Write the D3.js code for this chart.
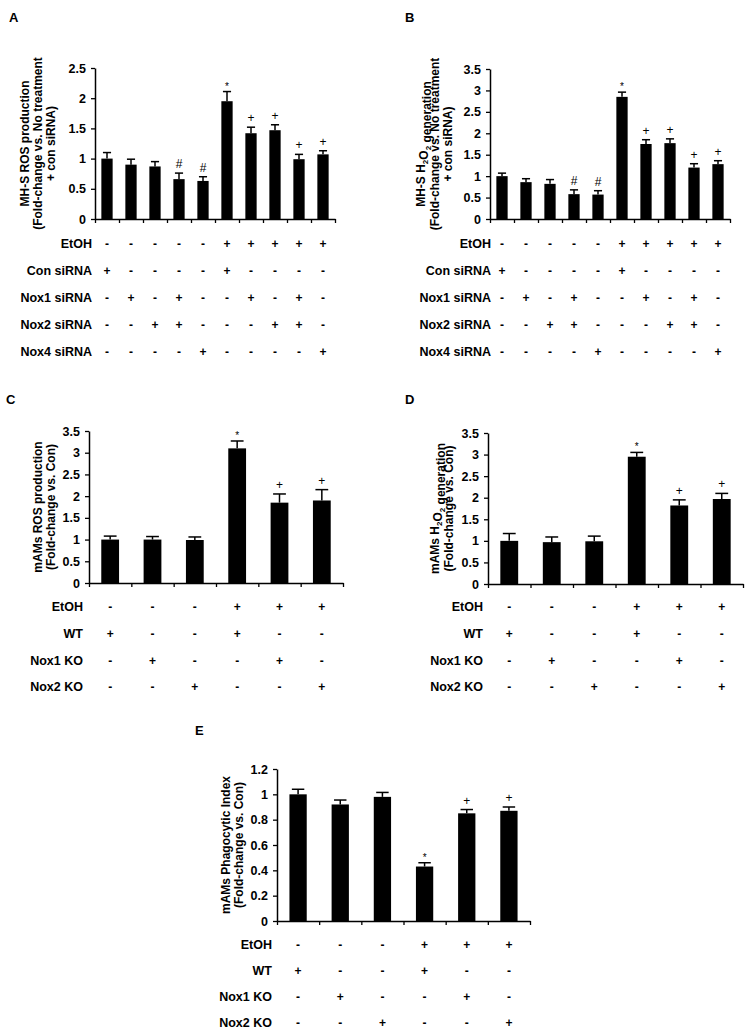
<!DOCTYPE html>
<html>
<head>
<meta charset="utf-8">
<script src="https://cdn.jsdelivr.net/npm/d3@7"></script>
<style>
  body { margin: 0; background: #fff; }
  svg { display: block; font-family: "Liberation Sans", Arial, sans-serif; }
  .tick text { font-weight: bold; font-size: 12.5px; fill: #000; }
  .rowLabel { font-weight: bold; font-size: 12.5px; }
  .sign { font-weight: bold; font-size: 12px; }
  .yTitle { font-weight: bold; font-size: 12px; }
  .panelLetter { font-weight: bold; font-size: 13px; }
</style>
</head>
<body>
<script>
"use strict";

// ---- data ----
var sirnaRows = ["EtOH", "Con siRNA", "Nox1 siRNA", "Nox2 siRNA", "Nox4 siRNA"];
var sirnaSigns = ["-----+++++", "+----+----", "-+-+--+-+-", "--++---++-", "----+----+"];
var koRows = ["EtOH", "WT", "Nox1 KO", "Nox2 KO"];
var koSigns = ["---+++", "+--+--", "-+--+-", "--+--+"];

var valuesA = [1.0, 0.9, 0.87, 0.66, 0.63, 1.95, 1.42, 1.47, 0.99, 1.07];
var errorsA = [0.1, 0.09, 0.08, 0.1, 0.07, 0.16, 0.1, 0.09, 0.08, 0.06];
var marksA = ["", "", "", "#", "#", "*", "+", "+", "+", "+"];
var ticksA = [0, 0.5, 1, 1.5, 2, 2.5];

var valuesB = [1.0, 0.86, 0.82, 0.58, 0.57, 2.85, 1.75, 1.77, 1.2, 1.28];
var errorsB = [0.07, 0.08, 0.1, 0.1, 0.09, 0.11, 0.1, 0.1, 0.09, 0.08];
var marksB = ["", "", "", "#", "#", "*", "+", "+", "+", "+"];
var ticksB = [0, 0.5, 1, 1.5, 2, 2.5, 3, 3.5];

var valuesC = [1.0, 1.0, 0.99, 3.1, 1.85, 1.9];
var errorsC = [0.08, 0.07, 0.07, 0.17, 0.2, 0.25];
var marksC = ["", "", "", "*", "+", "+"];
var ticksC = [0, 0.5, 1, 1.5, 2, 2.5, 3, 3.5];

var valuesD = [1.0, 0.97, 0.99, 2.95, 1.82, 1.97];
var errorsD = [0.17, 0.12, 0.12, 0.1, 0.13, 0.13];
var marksD = ["", "", "", "*", "+", "+"];
var ticksD = [0, 0.5, 1, 1.5, 2, 2.5, 3, 3.5];

var valuesE = [1.0, 0.92, 0.98, 0.43, 0.85, 0.87];
var errorsE = [0.04, 0.035, 0.035, 0.03, 0.03, 0.03];
var marksE = ["", "", "", "*", "+", "+"];
var ticksE = [0, 0.2, 0.4, 0.6, 0.8, 1, 1.2];

var svg = d3.select("body").append("svg")
  .attr("width", 750)
  .attr("height", 1034);

svg.append("rect").attr("width", 750).attr("height", 1034).attr("fill", "#fff");

// y title parts: [text, isSubscript]
function drawPanel(p) {
  var g = svg.append("g");
  var n = p.values.length;
  var yMax = p.ticks[p.ticks.length - 1];

  var y = d3.scaleLinear().domain([0, yMax]).range([p.y0, p.yTop]);
  var x = d3.scaleBand().domain(d3.range(n)).range([p.x0, p.x1]).padding(0);
  var xEdge = d3.scaleLinear().domain([0, n]).range([p.x0, p.x1]);
  var bw = x.bandwidth() * p.barRatio;

  g.append("text")
    .classed("panelLetter", true)
    .attr("x", p.letterX)
    .attr("y", p.letterY)
    .text(p.letter);

  // bars
  g.selectAll("rect.bar")
    .data(p.values)
    .enter().append("rect")
    .attr("class", "bar")
    .attr("x", function(d, i) { return x(i) + (x.bandwidth() - bw) / 2; })
    .attr("y", function(d) { return y(d); })
    .attr("width", bw)
    .attr("height", function(d) { return y(0) - y(d); })
    .attr("fill", "#000");

  // error bars (upper only)
  var capW = bw * 0.36;
  p.values.forEach(function(d, i) {
    var cx = x(i) + x.bandwidth() / 2;
    var top = y(d + p.errors[i]);
    g.append("line")
      .attr("x1", cx).attr("x2", cx)
      .attr("y1", y(d)).attr("y2", top)
      .attr("stroke", "#000").attr("stroke-width", 1.5);
    g.append("line")
      .attr("x1", cx - capW).attr("x2", cx + capW)
      .attr("y1", top).attr("y2", top)
      .attr("stroke", "#000").attr("stroke-width", 1.5);

    var m = p.marks[i];
    if (m) {
      g.append("text")
        .attr("x", cx)
        .attr("y", m === "*" ? top - 2 : top - 5)
        .attr("text-anchor", "middle")
        .attr("fill", "#000")
        .style("font-size", m === "*" ? "10px" : "12px")
        .text(m);
    }
  });

  // axes
  var yAxis = g.append("g")
    .attr("transform", "translate(" + p.x0 + ",0)")
    .call(d3.axisLeft(y).tickValues(p.ticks).tickSize(4).tickSizeOuter(0).tickPadding(5)
      .tickFormat(function(d) { return d3.format("")(+d.toFixed(1)); }));
  yAxis.select(".domain").attr("stroke-width", 1.5);
  yAxis.selectAll(".tick line").attr("stroke-width", 1.3);

  var xAxis = g.append("g")
    .attr("transform", "translate(0," + p.y0 + ")")
    .call(d3.axisBottom(xEdge).tickValues(d3.range(n + 1)).tickFormat("").tickSize(4).tickSizeOuter(0));
  xAxis.select(".domain").attr("stroke-width", 1.5);
  xAxis.selectAll(".tick line").attr("stroke-width", 1.3);

  // rotated y title
  var yMid = (p.y0 + p.yTop) / 2;
  p.title.forEach(function(line, k) {
    var t = g.append("text")
      .classed("yTitle", true)
      .attr("text-anchor", "middle")
      .attr("transform", "translate(" + p.titleX[k] + "," + yMid + ") rotate(-90)")
      .attr("dy", "0.35em");
    line.forEach(function(part) {
      if (part[1]) {
        t.append("tspan").attr("dy", 3).style("font-size", "8px").text(part[0]);
        t.append("tspan").attr("dy", -3).text("");
      } else {
        t.append("tspan").text(part[0]);
      }
    });
  });

  // condition table
  p.rows.forEach(function(row, r) {
    var ry = p.rowY + r * p.rowStep;
    g.append("text")
      .classed("rowLabel", true)
      .attr("x", p.labelX)
      .attr("y", ry)
      .attr("text-anchor", "end")
      .attr("dy", "0.35em")
      .text(row);
    g.selectAll(null)
      .data(p.signs[r].split(""))
      .enter().append("text")
      .classed("sign", true)
      .attr("x", function(d, i) { return x(i) + x.bandwidth() / 2; })
      .attr("y", ry)
      .attr("dy", "0.35em")
      .attr("text-anchor", "middle")
      .text(function(d) { return d; });
  });
}

drawPanel({
  letter: "A", letterX: 9, letterY: 22,
  values: valuesA, errors: errorsA, marks: marksA, ticks: ticksA,
  x0: 95, x1: 335, y0: 219, yTop: 68, barRatio: 0.47,
  title: [[["MH-S ROS production"]], [["(Fold-change vs. No treatment"]], [["+ con siRNA)"]]],
  titleX: [25, 38, 51],
  rows: sirnaRows, signs: sirnaSigns, labelX: 92, rowY: 244, rowStep: 27
});

drawPanel({
  letter: "B", letterX: 405, letterY: 22,
  values: valuesB, errors: errorsB, marks: marksB, ticks: ticksB,
  x0: 490, x1: 730, y0: 219, yTop: 69, barRatio: 0.47,
  title: [[["MH-S H"], ["2", true], ["O"], ["2", true], [" generation"]], [["(Fold-change vs. No treatment"]], [["+ con siRNA)"]]],
  titleX: [421, 435, 448],
  rows: sirnaRows, signs: sirnaSigns, labelX: 491, rowY: 244, rowStep: 27
});

drawPanel({
  letter: "C", letterX: 6, letterY: 404,
  values: valuesC, errors: errorsC, marks: marksC, ticks: ticksC,
  x0: 89, x1: 343, y0: 583, yTop: 431, barRatio: 0.42,
  title: [[["mAMs ROS production"]], [["(Fold-change vs. Con)"]]],
  titleX: [38, 51],
  rows: koRows, signs: koSigns, labelX: 83, rowY: 607, rowStep: 26.7
});

drawPanel({
  letter: "D", letterX: 405, letterY: 404,
  values: valuesD, errors: errorsD, marks: marksD, ticks: ticksD,
  x0: 488, x1: 743, y0: 584, yTop: 433, barRatio: 0.42,
  title: [[["mAMs H"], ["2", true], ["O"], ["2", true], [" generation"]], [["(Fold-change vs. Con)"]]],
  titleX: [435, 449],
  rows: koRows, signs: koSigns, labelX: 483, rowY: 607, rowStep: 26.7
});

drawPanel({
  letter: "E", letterX: 195, letterY: 735,
  values: valuesE, errors: errorsE, marks: marksE, ticks: ticksE,
  x0: 277, x1: 530, y0: 921, yTop: 769, barRatio: 0.41,
  title: [[["mAMs Phagocytic Index"]], [["(Fold-change vs. Con)"]]],
  titleX: [226, 239],
  rows: koRows, signs: koSigns, labelX: 272, rowY: 945, rowStep: 26
});
</script>
</body>
</html>
